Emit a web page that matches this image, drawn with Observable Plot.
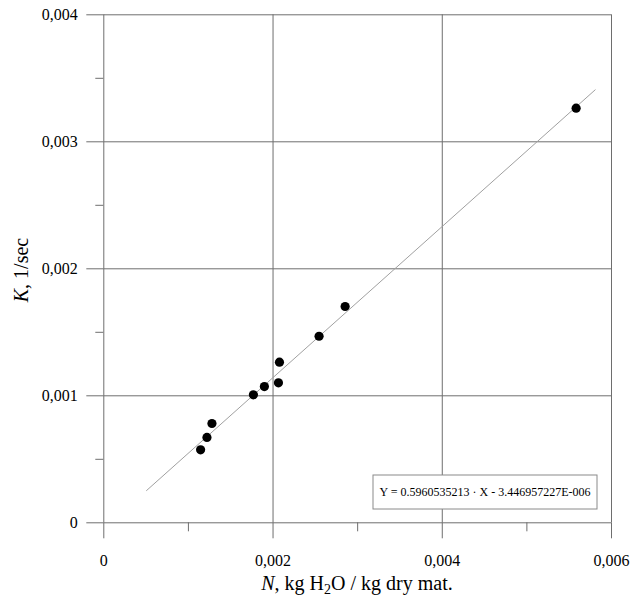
<!DOCTYPE html>
<html>
<head>
<meta charset="utf-8">
<script src="https://cdn.jsdelivr.net/npm/d3@7"></script>
<script src="https://cdn.jsdelivr.net/npm/@observablehq/plot@0.6"></script>
<style>
  html, body { margin: 0; padding: 0; background: #fff; }
</style>
</head>
<body>
<div id="chart"></div>
<script>
// Data
const moisture = [0.001144, 0.001219, 0.001278, 0.001768, 0.001898, 0.002064, 0.002076, 0.002544, 0.002852, 0.005582];
const rateK    = [0.000575, 0.000672, 0.000782, 0.001008, 0.001073, 0.001102, 0.001265, 0.001469, 0.001703, 0.003265];
const fitX = [0.000505, 0.005807];
const fitY = [0.000254, 0.003409];
const xMajorTicks = [0, 0.002, 0.004, 0.006];
const xMinorTicks = [0.001, 0.003, 0.005];
const yMajorTicks = [0, 0.001, 0.002, 0.003, 0.004];
const yMinorTicks = [0.0005, 0.0015, 0.0025, 0.0035];
const equationText = "Y = 0.5960535213 \u00b7 X - 3.446957227E-006";

const points = moisture.map((x, i) => ({x, y: rateK[i]}));
const fit = fitX.map((x, i) => ({x, y: fitY[i]}));
const fmt = d => d === 0 ? "0" : d.toFixed(3).replace(".", ",");
const gridColor = "#6e6e6e";
const serif = "Liberation Serif";

const plot = Plot.plot({
  width: 631,
  height: 598,
  marginLeft: 103.3,
  marginRight: 20,
  marginTop: 14.3,
  marginBottom: 75.7,
  style: {fontSize: "16px", color: "#000", background: "#fff"},
  x: {domain: [0, 0.006]},
  y: {domain: [0, 0.004]},
  marks: [
    Plot.gridX(xMajorTicks, {stroke: gridColor, strokeOpacity: 1}),
    Plot.gridY(yMajorTicks, {stroke: gridColor, strokeOpacity: 1}),
    Plot.axisX(xMajorTicks, {tickSize: 16, tickPadding: 16, tickFormat: fmt, stroke: gridColor, strokeOpacity: 1, fill: "#000", label: null}),
    Plot.axisX(xMinorTicks, {tickSize: 9, text: null, stroke: gridColor, strokeOpacity: 1, label: null}),
    Plot.axisY(yMajorTicks, {tickSize: 17, tickPadding: 9, tickFormat: fmt, stroke: gridColor, strokeOpacity: 1, fill: "#000", label: null}),
    Plot.axisY(yMinorTicks, {tickSize: 8, text: null, stroke: gridColor, strokeOpacity: 1, label: null}),
    Plot.line(fit, {x: "x", y: "y", stroke: "#a0a0a0", strokeWidth: 1}),
    Plot.dot(points, {x: "x", y: "y", r: 4.6, fill: "#000", stroke: "none"})
  ]
});

const svg = d3.select(plot);
svg.attr("font-family", serif).style("font-family", serif);

// Equation box
const g = svg.append("g");
g.append("rect")
  .attr("x", 373).attr("y", 475).attr("width", 224).attr("height", 34)
  .attr("fill", "#fff").attr("stroke", "#8a8a8a").attr("stroke-width", 1);
g.append("text")
  .attr("x", 485).attr("y", 496)
  .attr("text-anchor", "middle")
  .attr("font-size", "12px")
  .attr("fill", "#000")
  .text(equationText);

// X axis title
const xt = svg.append("text")
  .attr("x", 357).attr("y", 590)
  .attr("text-anchor", "middle")
  .attr("font-size", "20px")
  .attr("fill", "#000");
xt.append("tspan").attr("font-style", "italic").text("N");
xt.append("tspan").text(", kg H");
xt.append("tspan").attr("font-size", "14px").attr("dy", "4").text("2");
xt.append("tspan").attr("dy", "-4").text("O / kg dry mat.");

// Y axis title
const yt = svg.append("text")
  .attr("transform", "translate(28,270) rotate(-90)")
  .attr("text-anchor", "middle")
  .attr("font-size", "20px")
  .attr("fill", "#000");
yt.append("tspan").attr("font-style", "italic").text("K");
yt.append("tspan").text(", 1/sec");

svg.selectAll("g, text, tspan").attr("font-family", serif).style("font-family", serif);

document.getElementById("chart").appendChild(plot);
</script>
</body>
</html>
